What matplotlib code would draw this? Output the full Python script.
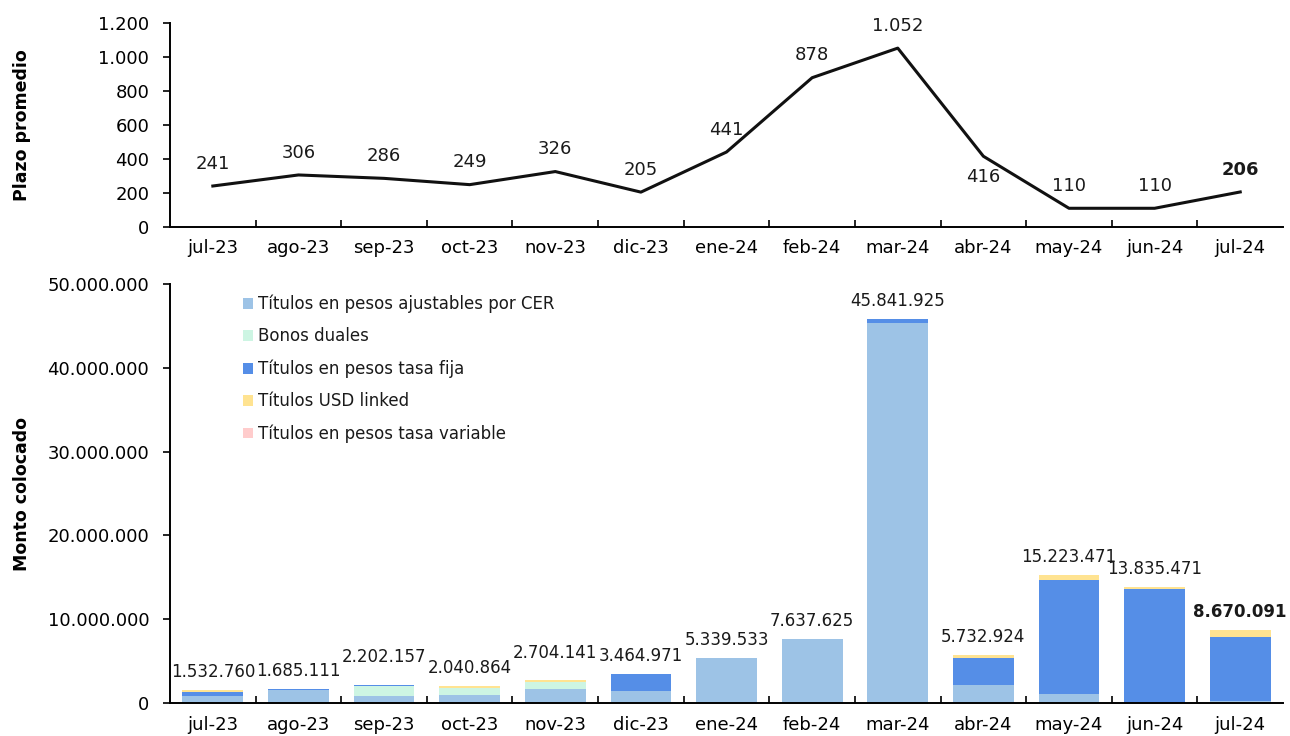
import matplotlib.pyplot as plt
import numpy as np

plt.rcParams['font.family'] = ['DejaVu Sans']
plt.rcParams['text.color'] = '#1a1a1a'

meses = ["jul-23", "ago-23", "sep-23", "oct-23", "nov-23", "dic-23", "ene-24",
         "feb-24", "mar-24", "abr-24", "may-24", "jun-24", "jul-24"]

plazo = [241, 306, 286, 249, 326, 205, 441, 878, 1052, 416, 110, 110, 206]

# montos colocados por instrumento (estimados del gráfico)
cer = [820000, 1600000, 880000, 900000, 1620000, 1400000, 5339533,
       7637625, 45300000, 2200000, 1100000, 0, 300000]
duales = [0, 0, 1120000, 860000, 840000, 0, 0, 0, 0, 0, 0, 0, 0]
fija = [552760, 85111, 120000, 0, 0, 2064971, 0, 0, 541925, 3152924,
        13563471, 13635471, 7610091]
usd = [160000, 0, 82157, 280864, 244141, 0, 0, 0, 0, 380000, 560000,
       200000, 760000]
variable = [0] * 13

totales = [1532760, 1685111, 2202157, 2040864, 2704141, 3464971, 5339533,
           7637625, 45841925, 5732924, 15223471, 13835471, 8670091]

series = [("Títulos en pesos ajustables por CER", cer, "#9DC3E6"),
          ("Bonos duales", duales, "#CDF5E3"),
          ("Títulos en pesos tasa fija", fija, "#558EE7"),
          ("Títulos USD linked", usd, "#FFE391"),
          ("Títulos en pesos tasa variable", variable, "#FFCCCC")]


def miles(v):
    return f"{v:,.0f}".replace(",", ".")


fig = plt.figure(figsize=(12.9, 7.36), dpi=100)
ax1 = fig.add_axes([0.1318, 0.6916, 0.8628, 0.2772])
ax2 = fig.add_axes([0.1318, 0.0448, 0.8628, 0.5693])

x = np.arange(len(meses))

# Plazo promedio
ax1.plot(x, plazo, color="#111111", lw=2.2)
for i, v in enumerate(plazo):
    dy = -15 if meses[i] == "abr-24" else 16
    ax1.annotate(miles(v), (i, v), xytext=(0, dy), textcoords="offset points",
                 ha="center", va="center", fontsize=13,
                 fontweight="bold" if i == len(plazo) - 1 else "normal")

# Monto colocado
base = np.zeros(len(meses))
for nombre, vals, color in series:
    ax2.bar(x, vals, bottom=base, width=0.71, color=color, label=nombre)
    base += np.array(vals)

for i, t in enumerate(totales):
    dy = 20 if meses[i] in ("sep-23", "nov-23") else 13
    ax2.annotate(miles(t), (i, t), xytext=(0, dy), textcoords="offset points",
                 ha="center", va="center", fontsize=12,
                 fontweight="bold" if i == len(totales) - 1 else "normal")

ax1.set_ylim(0, 1200)
ax1.set_yticks(range(0, 1201, 200))
ax1.set_yticklabels([miles(v) for v in range(0, 1201, 200)])
ax2.set_ylim(0, 50000000)
ax2.set_yticks(range(0, 50000001, 10000000))
ax2.set_yticklabels([miles(v) for v in range(0, 50000001, 10000000)])

for ax, titulo in ((ax1, "Plazo promedio"), (ax2, "Monto colocado")):
    ax.set_xlim(-0.5, len(meses) - 0.5)
    ax.set_xticks(x)
    ax.set_xticklabels(meses)
    ax.set_xticks(np.arange(0.5, len(meses) - 0.5, 1), minor=True)
    ax.tick_params(axis="x", which="major", length=0, pad=9, labelsize=13)
    ax.tick_params(axis="x", which="minor", direction="in", length=5, width=1.2)
    ax.tick_params(axis="y", labelsize=13, length=5, width=1.2, pad=10)
    ax.set_ylabel(titulo, fontsize=12.5, fontweight="bold", labelpad=10)
    ax.yaxis.set_label_coords(-0.125, 0.5)
    ax.spines[["top", "right"]].set_visible(False)
    ax.spines[["left", "bottom"]].set_linewidth(1.4)

ax2.legend(loc="upper left", bbox_to_anchor=(0.052, 1.01), frameon=False,
           fontsize=12, handlelength=0.6, handleheight=0.6, handletextpad=0.3,
           labelspacing=0.85)

fig.savefig("out.png", dpi=100)
